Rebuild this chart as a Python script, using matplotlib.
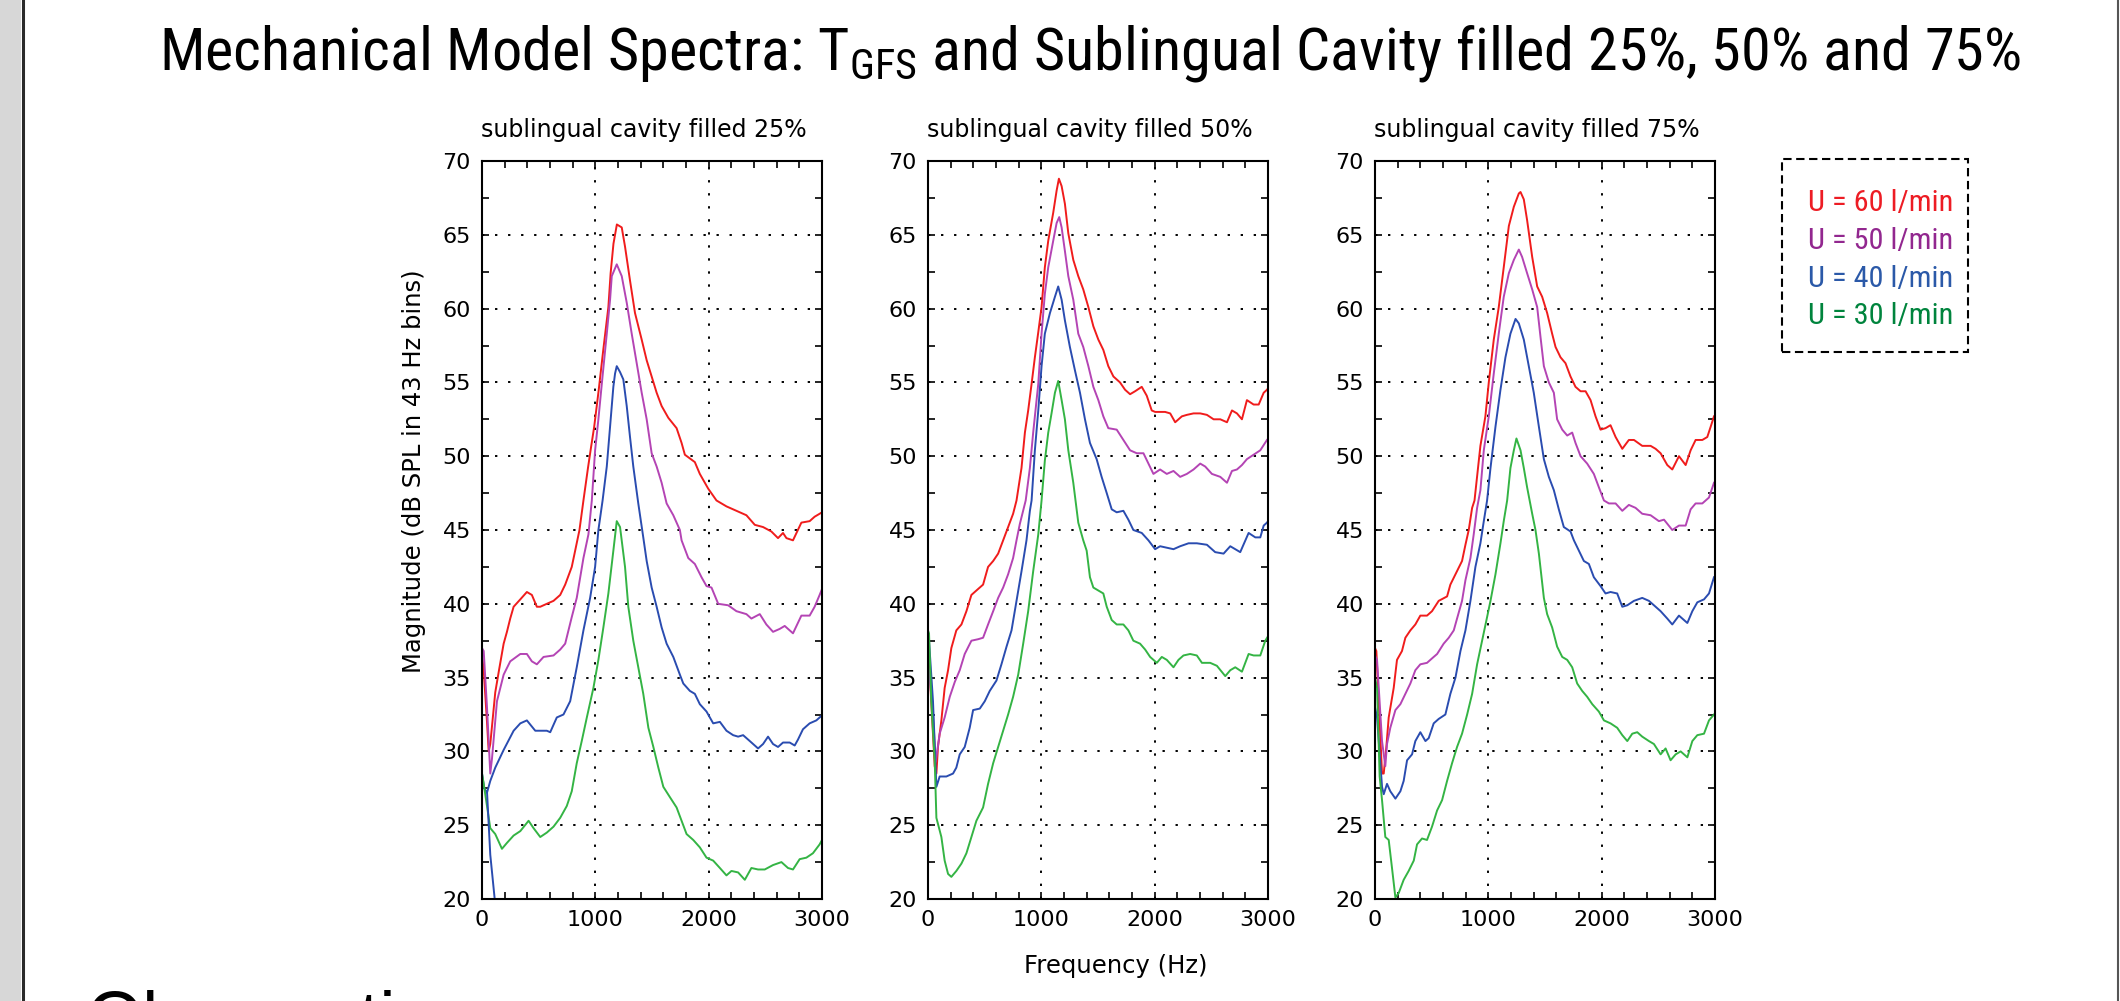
import matplotlib
matplotlib.use('Agg')
import matplotlib.pyplot as plt
from matplotlib import font_manager
from matplotlib.patches import Rectangle
from matplotlib.lines import Line2D
from matplotlib.ticker import MultipleLocator

# ---- values: frequency (Hz) / magnitude (dB SPL) ----
# panel 1 : sublingual cavity filled 25%
f25_u60 = [0, 15, 44, 59, 73, 117, 150, 191, 220, 249, 279, 338, 396, 440, 484, 514, 572, 631, 690, 734,
           792, 822, 860, 895, 935, 960, 990, 1030, 1070, 1115, 1135, 1160, 1190, 1233, 1262, 1306, 1350,
           1409, 1453, 1497, 1541, 1585, 1644, 1717, 1761, 1790, 1878, 1922, 1996, 2069, 2157, 2245, 2333,
           2407, 2480, 2553, 2612, 2656, 2686, 2744, 2818, 2891, 2935, 2979, 3000]
db25_u60 = [36.5, 35.5, 32, 30, 30.5, 34, 35.5, 37.3, 38.1, 39, 39.8, 40.3, 40.8, 40.6, 39.8, 39.8, 40, 40.2,
            40.6, 41.3, 42.5, 43.6, 45, 47, 49.2, 50.5, 52, 54.5, 57.2, 60.1, 62.4, 64.4, 65.7, 65.5, 64.2,
            61.9, 59.7, 57.9, 56.5, 55.4, 54.3, 53.4, 52.6, 51.9, 50.9, 50.1, 49.6, 48.8, 47.8, 47.0, 46.6,
            46.3, 46.0, 45.35, 45.2, 44.9, 44.45, 44.8, 44.45, 44.3, 45.5, 45.6, 45.9, 46.1, 46.2]

f25_u50 = [0, 15, 44, 73, 88, 132, 191, 249, 338, 396, 440, 484, 543, 631, 690, 734, 792, 836, 895, 939,
           969, 998, 1027, 1057, 1101, 1130, 1145, 1189, 1233, 1277, 1321, 1365, 1409, 1453, 1497, 1541,
           1585, 1629, 1688, 1746, 1761, 1820, 1878, 1937, 1981, 2025, 2084, 2172, 2245, 2333, 2377, 2451,
           2509, 2568, 2627, 2671, 2744, 2818, 2891, 2935, 2979, 3000]
db25_u50 = [37, 36.8, 33, 28.5, 29.5, 33.4, 35.2, 36.1, 36.6, 36.6, 36.1, 35.9, 36.4, 36.5, 36.9, 37.3, 39.1,
            40.4, 43.1, 44.7, 47, 50.4, 52.5, 54.9, 58.3, 60.6, 62.2, 63, 62.2, 60.4, 58.3, 56.3, 54.3, 52.5,
            50.2, 49.3, 48.2, 46.8, 46.0, 45.0, 44.3, 43.1, 42.7, 41.8, 41.2, 41.1, 40, 39.9, 39.5, 39.3, 39,
            39.3, 38.6, 38.1, 38.3, 38.5, 38.0, 39.2, 39.2, 39.8, 40.6, 41]

f25_u40 = [0, 20, 44, 73, 117, 191, 279, 338, 396, 470, 572, 602, 660, 719, 778, 836, 895, 954, 998, 1027,
           1064, 1101, 1130, 1159, 1174, 1189, 1218, 1247, 1277, 1306, 1335, 1379, 1423, 1453, 1497, 1541,
           1585, 1629, 1688, 1746, 1776, 1834, 1878, 1922, 1981, 2040, 2099, 2157, 2216, 2260, 2304, 2363,
           2436, 2480, 2524, 2568, 2612, 2656, 2715, 2759, 2788, 2832, 2891, 2950, 2994, 3000]
db25_u40 = [28.5, 27.5, 27.2, 28, 28.9, 30.1, 31.4, 31.9, 32.1, 31.4, 31.4, 31.3, 32.3, 32.5, 33.4, 35.7,
            38.2, 40.4, 42.5, 45, 47, 49.3, 52, 54.7, 55.6, 56.1, 55.7, 55.2, 53.4, 51.3, 49.3, 46.8, 44.5,
            42.9, 41.1, 39.8, 38.4, 37.3, 36.4, 35.2, 34.6, 34.1, 33.9, 33.2, 32.7, 31.9, 32, 31.4, 31.1, 31,
            31.1, 30.7, 30.2, 30.5, 31, 30.5, 30.3, 30.6, 30.6, 30.4, 30.8, 31.5, 31.9, 32.1, 32.4, 32.5]
# short blue stroke that drops off the bottom near 100 Hz
f25_u40_drop = [44, 73, 125]
db25_u40_drop = [27.3, 23, 19]

f25_u30 = [0, 15, 73, 117, 176, 220, 279, 338, 411, 455, 514, 572, 631, 690, 748, 792, 836, 880, 925, 983,
           1027, 1071, 1115, 1159, 1189, 1218, 1262, 1291, 1335, 1379, 1423, 1468, 1512, 1556, 1600, 1658,
           1717, 1761, 1805, 1864, 1922, 1981, 2040, 2099, 2157, 2201, 2260, 2319, 2377, 2436, 2495, 2568,
           2642, 2700, 2744, 2803, 2862, 2920, 2979, 3000]
db25_u30 = [28.5, 27.8, 24.8, 24.4, 23.4, 23.8, 24.3, 24.6, 25.3, 24.8, 24.2, 24.5, 24.9, 25.5, 26.3, 27.3,
            29.2, 30.7, 32.3, 34.3, 36.2, 38.4, 40.7, 43.6, 45.6, 45.2, 42.5, 39.8, 37.5, 35.7, 33.9, 31.6,
            30.3, 28.9, 27.6, 26.9, 26.2, 25.3, 24.4, 24, 23.5, 22.8, 22.6, 22.1, 21.6, 21.9, 21.8, 21.3,
            22.1, 22, 22, 22.3, 22.5, 22.1, 22, 22.7, 22.8, 23.1, 23.7, 24]

# panel 2 : sublingual cavity filled 50%
f50_u60 = [0, 9, 59, 74, 88, 118, 147, 177, 206, 250, 295, 339, 383, 427, 486, 530, 575, 619, 663, 707,
           751, 781, 825, 855, 884, 914, 943, 973, 1002, 1031, 1061, 1105, 1135, 1155, 1179, 1208, 1238,
           1282, 1326, 1370, 1415, 1459, 1503, 1547, 1591, 1636, 1694, 1739, 1783, 1827, 1886, 1930, 1974,
           2004, 2048, 2092, 2137, 2181, 2240, 2284, 2343, 2402, 2461, 2520, 2579, 2638, 2682, 2726, 2770,
           2814, 2873, 2918, 2962, 2991, 3000]
db50_u60 = [36.5, 36.2, 29, 28.5, 30.3, 32.1, 34.3, 35.5, 37, 38.2, 38.6, 39.5, 40.6, 40.9, 41.3, 42.5, 42.9,
            43.4, 44.3, 45.2, 46.1, 47, 49.2, 51.6, 53.1, 54.9, 56.7, 58.4, 60.1, 62.8, 64.6, 66.5, 68,
            68.8, 68.3, 67.1, 65.1, 63.3, 62.2, 61.3, 60.1, 58.8, 57.9, 57.2, 56.1, 55.4, 55, 54.5, 54.2,
            54.4, 54.7, 54.1, 53.1, 53, 53, 53, 52.9, 52.3, 52.7, 52.8, 52.9, 52.9, 52.8, 52.5, 52.5, 52.3,
            53.1, 52.9, 52.5, 53.8, 53.5, 53.5, 54.3, 54.5, 54.6]

f50_u50 = [0, 9, 44, 68, 103, 147, 192, 236, 280, 324, 383, 442, 486, 530, 575, 619, 663, 707, 751, 781,
           810, 862, 899, 928, 973, 1002, 1031, 1061, 1105, 1135, 1158, 1179, 1208, 1238, 1282, 1326, 1370,
           1415, 1459, 1503, 1547, 1591, 1665, 1724, 1783, 1842, 1901, 1945, 1989, 2048, 2107, 2166, 2225,
           2284, 2343, 2402, 2446, 2505, 2579, 2638, 2682, 2726, 2770, 2814, 2873, 2932, 2991]
db50_u50 = [35.8, 35.5, 32.5, 29.3, 31.2, 32.3, 33.7, 34.7, 35.5, 36.6, 37.5, 37.6, 37.7, 38.6, 39.5, 40.4,
            41.1, 42, 43.1, 44.3, 45.4, 47, 49.2, 51.6, 54.9, 58.3, 61, 62.8, 64.6, 65.8, 66.2, 65.5, 63.9,
            62.2, 60.6, 58.3, 57.4, 56.1, 54.7, 53.8, 52.7, 51.9, 51.8, 51.1, 50.4, 50.2, 50.2, 49.5, 48.8,
            49.1, 48.8, 49, 48.6, 48.8, 49.1, 49.5, 49.3, 48.8, 48.6, 48.2, 49, 49.1, 49.4, 49.8, 50.1, 50.4,
            51.1]

f50_u40 = [0, 9, 44, 74, 103, 162, 221, 250, 280, 324, 368, 398, 457, 501, 545, 604, 648, 693, 737, 781,
           825, 869, 899, 914, 943, 973, 1002, 1031, 1076, 1120, 1149, 1179, 1208, 1252, 1297, 1341, 1385,
           1429, 1488, 1532, 1577, 1621, 1665, 1724, 1768, 1812, 1886, 1945, 2004, 2048, 2107, 2166, 2225,
           2299, 2372, 2461, 2534, 2608, 2667, 2755, 2829, 2888, 2932, 2962, 2991, 3000]
db50_u40 = [37.8, 37.5, 33.4, 27.6, 28.3, 28.3, 28.5, 28.9, 29.8, 30.3, 31.6, 32.8, 32.9, 33.4, 34.1, 34.8,
            35.9, 37.1, 38.2, 40.2, 42.2, 44.3, 46.3, 47, 50.4, 53.1, 56.1, 58.3, 59.7, 60.8, 61.5, 60.6,
            59.2, 57.4, 55.8, 54.3, 52.5, 50.9, 49.8, 48.6, 47.5, 46.4, 46.2, 46.3, 45.7, 45, 44.8, 44.3,
            43.7, 43.9, 43.8, 43.7, 43.9, 44.1, 44.1, 44, 43.5, 43.4, 43.9, 43.5, 44.8, 44.5, 44.5, 45.3,
            45.5, 45.6]

f50_u30 = [0, 9, 29, 59, 74, 118, 147, 177, 206, 250, 295, 339, 383, 427, 486, 530, 575, 619, 663, 707,
           751, 796, 840, 884, 928, 973, 1002, 1031, 1061, 1090, 1120, 1149, 1179, 1208, 1238, 1282, 1326,
           1370, 1400, 1429, 1459, 1503, 1547, 1577, 1621, 1665, 1724, 1768, 1812, 1871, 1916, 1960, 2019,
           2063, 2107, 2166, 2210, 2254, 2313, 2372, 2417, 2490, 2549, 2623, 2667, 2711, 2770, 2829, 2873,
           2932, 2976, 3000]
db50_u30 = [38.2, 38, 33.4, 29.4, 25.5, 24.2, 22.6, 21.7, 21.5, 21.9, 22.4, 23.1, 24.2, 25.3, 26.2, 27.8,
            29.2, 30.3, 31.4, 32.5, 33.7, 35.2, 37.3, 39.5, 42.2, 44.7, 47, 49.7, 51.6, 52.9, 54.3, 55.1,
            53.8, 52.5, 50.4, 48.2, 45.5, 44.3, 43.6, 41.8, 41.1, 40.9, 40.7, 39.8, 38.9, 38.6, 38.6, 38.2,
            37.5, 37.3, 36.9, 36.4, 36, 36.4, 36.2, 35.7, 36.2, 36.5, 36.6, 36.5, 36, 36, 35.8, 35.1, 35.5,
            35.7, 35.4, 36.6, 36.5, 36.5, 37.5, 37.8]

# panel 3 : sublingual cavity filled 75%
f75_u60 = [0, 12, 62, 77, 100, 121, 165, 194, 238, 268, 312, 356, 400, 459, 503, 562, 636, 665, 710, 768,
           798, 827, 857, 878, 930, 974, 1004, 1048, 1092, 1136, 1181, 1225, 1269, 1284, 1313, 1342, 1387,
           1431, 1475, 1519, 1563, 1593, 1637, 1681, 1725, 1769, 1814, 1858, 1902, 1946, 1990, 2034, 2078,
           2123, 2182, 2240, 2285, 2358, 2432, 2476, 2520, 2579, 2623, 2682, 2741, 2785, 2829, 2888, 2932,
           2962, 2991]
db75_u60 = [37, 36.8, 28.5, 28.5, 30.3, 32.3, 34.3, 36.2, 36.8, 37.7, 38.2, 38.6, 39.2, 39.2, 39.5, 40.2,
            40.5, 41.3, 42, 42.9, 44, 45, 46.5, 47, 50.7, 52.7, 55, 57.9, 60.1, 62.8, 65.6, 66.9, 67.8, 67.9,
            67.4, 66, 63.5, 61.5, 60.8, 59.7, 58.3, 57.4, 56.7, 56.3, 55.4, 54.7, 54.4, 54.4, 53.8, 52.7,
            51.8, 51.9, 52.1, 51.3, 50.5, 51.1, 51.1, 50.7, 50.7, 50.5, 50.2, 49.4, 49.1, 50, 49.4, 50.4,
            51.1, 51.1, 51.3, 52, 52.7]

f75_u50 = [0, 18, 62, 91, 106, 135, 180, 224, 268, 312, 356, 400, 459, 503, 548, 606, 651, 695, 724, 768,
           798, 842, 871, 901, 930, 960, 1004, 1048, 1092, 1136, 1181, 1225, 1269, 1298, 1342, 1387, 1431,
           1460, 1490, 1534, 1578, 1607, 1652, 1696, 1740, 1769, 1814, 1872, 1931, 1975, 2020, 2064, 2123,
           2182, 2240, 2299, 2358, 2432, 2505, 2550, 2623, 2682, 2741, 2785, 2829, 2888, 2947, 2991]
db75_u50 = [36.5, 36.2, 30.7, 29, 30.5, 31.6, 32.8, 33.2, 33.9, 34.6, 35.5, 35.9, 36, 36.3, 36.6, 37.3, 37.7,
            38.2, 39, 40.2, 41.6, 43.1, 44.7, 46.5, 47.7, 50.4, 52.7, 55.6, 58.3, 60.8, 62.4, 63.3, 64, 63.5,
            62.4, 61.3, 60.1, 58.1, 56.1, 55, 54.3, 52.5, 51.8, 51.4, 51.6, 50.9, 50, 49.5, 48.8, 47.9, 47,
            46.8, 46.8, 46.3, 46.7, 46.5, 46.1, 46, 45.6, 45.7, 45, 45.3, 45.3, 46.4, 46.8, 46.8, 47.2, 48.2]

f75_u40 = [0, 18, 62, 77, 106, 135, 180, 224, 253, 283, 327, 356, 400, 445, 474, 518, 562, 621, 665, 710,
           754, 798, 842, 886, 930, 960, 989, 1019, 1063, 1107, 1151, 1195, 1240, 1269, 1313, 1357, 1401,
           1446, 1490, 1534, 1578, 1622, 1666, 1725, 1755, 1799, 1843, 1887, 1931, 1990, 2034, 2078, 2137,
           2182, 2226, 2285, 2358, 2417, 2476, 2520, 2579, 2623, 2682, 2756, 2800, 2844, 2903, 2947, 2991]
db75_u40 = [33, 32.3, 27.6, 27.1, 27.8, 27.3, 26.8, 27.3, 28, 29.4, 29.8, 30.7, 31.3, 30.7, 30.9, 31.9, 32.2,
            32.5, 33.9, 35, 36.8, 38.2, 40.2, 42.5, 44.1, 45.6, 47, 49.2, 52, 54.5, 56.7, 58.3, 59.3, 59,
            57.9, 56.1, 54.3, 52, 49.8, 48.6, 47.7, 46.4, 45.2, 44.9, 44.3, 43.6, 42.9, 42.7, 41.8, 41.2,
            40.7, 40.8, 40.7, 39.8, 39.9, 40.2, 40.4, 40.2, 39.8, 39.5, 39, 38.6, 39.2, 38.7, 39.5, 40.1,
            40.3, 40.7, 41.8]

f75_u30 = [0, 18, 41, 62, 91, 121, 150, 180, 209, 253, 297, 342, 371, 415, 459, 503, 548, 592, 636, 680,
           724, 768, 813, 857, 901, 945, 989, 1019, 1063, 1107, 1136, 1166, 1195, 1225, 1248, 1284, 1313,
           1342, 1387, 1416, 1446, 1490, 1519, 1563, 1607, 1652, 1696, 1740, 1784, 1828, 1872, 1917, 1975,
           2020, 2078, 2137, 2182, 2226, 2270, 2314, 2358, 2417, 2461, 2520, 2564, 2608, 2653, 2697, 2756,
           2800, 2844, 2903, 2947, 2991]
db75_u30 = [35, 34.3, 28.3, 26.7, 24.2, 24, 22.1, 20.1, 20.4, 21.3, 21.9, 22.6, 23.7, 24.1, 24, 24.9, 26,
            26.7, 28, 29.2, 30.3, 31.2, 32.5, 33.9, 35.9, 37.5, 39.1, 40.2, 42, 44.1, 45.6, 47, 49.2, 50.4,
            51.2, 50.4, 49.2, 47.9, 46.1, 45, 43.4, 40.4, 39.3, 38.4, 37.1, 36.4, 36.2, 35.7, 34.6, 34.1,
            33.7, 33.2, 32.7, 32.1, 31.9, 31.6, 31.1, 30.7, 31.2, 31.3, 31, 30.7, 30.5, 29.8, 30.2, 29.4,
            29.8, 30, 29.6, 30.7, 31.1, 31.2, 32.1, 32.5]

panel_titles = ['sublingual cavity filled 25%', 'sublingual cavity filled 50%', 'sublingual cavity filled 75%']
legend_labels = ['U = 60 l/min', 'U = 50 l/min', 'U = 40 l/min', 'U = 30 l/min']

line_colors = ['#f01c1c', '#b444b4', '#2a4cb0', '#34b444']
legend_colors = ['#ed1c24', '#92278f', '#2b59a8', '#00843d']

panels = [
    [(f25_u60, db25_u60), (f25_u50, db25_u50), (f25_u40, db25_u40), (f25_u30, db25_u30)],
    [(f50_u60, db50_u60), (f50_u50, db50_u50), (f50_u40, db50_u40), (f50_u30, db50_u30)],
    [(f75_u60, db75_u60), (f75_u50, db75_u50), (f75_u40, db75_u40), (f75_u30, db75_u30)],
]

W, H = 2120, 1001

# the slide uses a narrow Arial; take a condensed face if there is one, else plain Liberation Sans
installed = {f.name for f in font_manager.fontManager.ttflist}
narrow_face = None
for name in ['Liberation Sans Narrow', 'Roboto Condensed']:
    if name in installed:
        narrow_face = name
        break
if narrow_face:
    head_font, title_size, key_size = [narrow_face, 'DejaVu Sans'], 43.4, 21.8
else:
    head_font, title_size, key_size = ['Liberation Sans', 'DejaVu Sans'], 37.5, 18.8

fig = plt.figure(figsize=(W / 100, H / 100), dpi=100)
fig.patch.set_facecolor('white')

# slide frame: gray strip and dark rule on the left, thin rule on the right
fig.patches.append(Rectangle((0, 0), 21 / W, 1, transform=fig.transFigure,
                             facecolor='#d7d7d7', edgecolor='none'))
fig.add_artist(Line2D([22.5 / W] * 2, [0, 1], color='#2a2a2a', lw=2.2))
fig.add_artist(Line2D([2117.5 / W] * 2, [0, 1], color='#555555', lw=1.5))

lefts = [482, 928, 1375]
for i, left in enumerate(lefts):
    ax = fig.add_axes([left / W, 102 / H, 340 / W, 738 / H])
    for (f, db), c in zip(panels[i], line_colors):
        ax.plot(f, db, color=c, lw=1.4)
    if i == 0:
        ax.plot(f25_u40_drop, db25_u40_drop, color=line_colors[2], lw=1.4)
    ax.set_xlim(0, 3000)
    ax.set_ylim(20, 70)
    ax.set_xticks([0, 1000, 2000, 3000])
    ax.set_yticks(range(20, 71, 5))
    ax.xaxis.set_minor_locator(MultipleLocator(200))
    ax.yaxis.set_minor_locator(MultipleLocator(2.5))
    ax.tick_params(which='both', direction='in', top=True, right=True,
                   length=5, width=1.2, labelsize=16, pad=8)
    ax.grid(True, which='major', color='black', linestyle=(0, (1.2, 5.5)), linewidth=1.4)
    for s in ax.spines.values():
        s.set_linewidth(1.5)
    ax.text(0.5 - 8 / 340, 1.0325, panel_titles[i], transform=ax.transAxes,
            ha='center', va='baseline', fontsize=17)

fig.text(414 / W, 530 / H, 'Magnitude (dB SPL in 43 Hz bins)', rotation=90,
         ha='center', va='center', fontsize=17.5)
fig.text(1116 / W, 1 - 966 / H, 'Frequency (Hz)', ha='center', va='center', fontsize=17.5)

# main title
fig.text(1090 / W, 1 - 70 / H,
         r'Mechanical Model Spectra: T$\mathregular{_{GFS}}$ and Sublingual Cavity filled 25%, 50% and 75%',
         ha='center', va='baseline', fontsize=title_size, family=head_font)

# dashed box with flow-rate key
fig.patches.append(Rectangle((1782 / W, 1 - 352 / H), 186 / W, 193 / H, transform=fig.transFigure,
                             facecolor='none', edgecolor='black', lw=1.5, linestyle=(0, (4, 2.2))))
for k, (lab, c) in enumerate(zip(legend_labels, legend_colors)):
    fig.text(1808 / W, 1 - (211 + 37.8 * k) / H, lab, color=c, ha='left', va='baseline',
             fontsize=key_size, family=head_font)

# heading of the next slide section, cut by the bottom edge
fig.text(87 / W, 1 - 1042 / H, 'Observations', ha='left', va='baseline', fontsize=52,
         family=['Liberation Sans', 'DejaVu Sans'])

fig.savefig('out.png', dpi=100)
